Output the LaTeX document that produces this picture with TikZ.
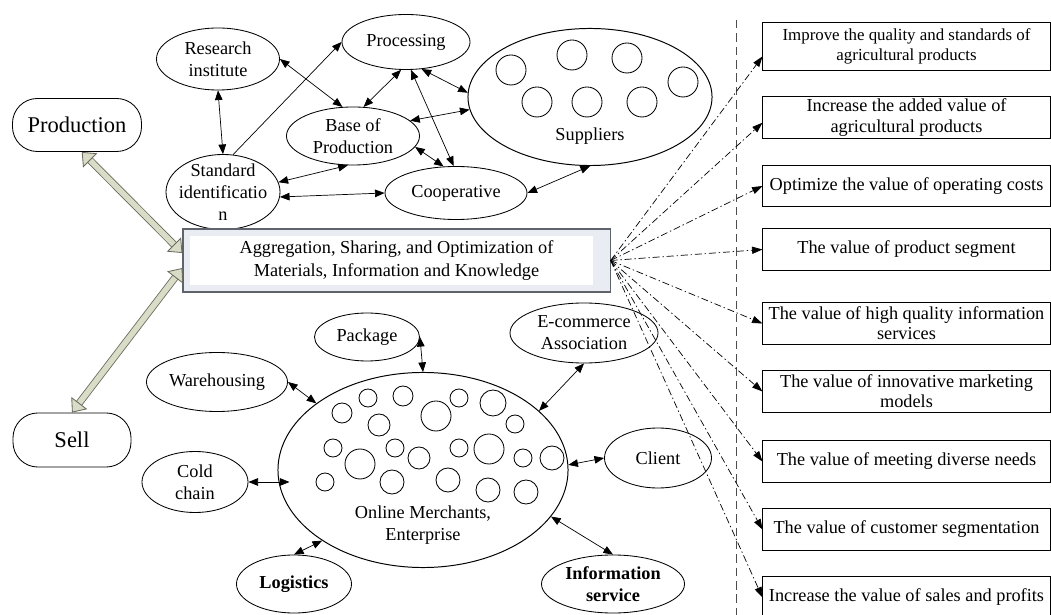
\documentclass[tikz,border=0pt]{standalone}
\usepackage{fontspec}
\setmainfont{Liberation Serif}
\usetikzlibrary{shapes.geometric, arrows.meta}

\definecolor{aggfill}{HTML}{E9EDF3}
\definecolor{aggedge}{HTML}{5F636B}
\definecolor{hollowfill}{HTML}{D9DCC6}
\definecolor{hollowedge}{HTML}{6B6B5E}

\tikzset{
    txt/.style={font=\fontsize{13}{15.5}\selectfont},
    oval/.style={ellipse, draw, line width=0.6pt, inner sep=0pt, align=center, txt},
    bigoval/.style={ellipse, draw, line width=0.7pt, inner sep=0pt},
    stadium/.style={rectangle, draw, line width=0.6pt, rounded corners=0.62cm, font=\fontsize{16}{19}\selectfont},
    valbox/.style={rectangle, draw, line width=0.7pt, minimum width=7.175cm, minimum height=1.03cm, inner sep=2pt, align=center, font=\fontsize{13}{14.3}\selectfont},
    aggbox/.style={rectangle, draw=aggedge, line width=0.8pt, fill=aggfill, minimum width=10.675cm, minimum height=1.575cm, align=center, font=\fontsize{13}{16.5}\selectfont,
        path picture={\fill[white] ([shift={(0.175cm,-0.175cm)}]path picture bounding box.north west) rectangle ([shift={(-0.425cm,0.175cm)}]path picture bounding box.south east);}},
    link/.style={{Triangle[length=2.4mm,width=1.9mm]}-{Triangle[length=2.4mm,width=1.9mm]}, line width=0.5pt},
    onelink/.style={-{Triangle[length=2.4mm,width=1.9mm]}, line width=0.5pt},
    valarrow/.style={-{Triangle[length=2.6mm,width=1.8mm]}, line width=0.5pt, dash pattern=on 5pt off 2pt on 1pt off 2pt},
    hollow/.style={draw=hollowedge, line width=0.6pt, double=hollowfill, double distance=4pt,
        {Triangle[open,fill=hollowfill,length=3mm,width=5mm]}-{Triangle[open,fill=hollowfill,length=3mm,width=5mm]}},
    sepline/.style={dash pattern=on 6pt off 3.5pt, line width=0.7pt, gray!60!black}
}

\begin{document}
\begin{tikzpicture}[x=0.025cm, y=-0.025cm]
        \useasboundingbox (0,0) rectangle (1051,615);

        % production and sell
            \node[stadium, minimum width=3.225cm, minimum height=1.325cm] (prod) at (77,125) {Production};
            \node[stadium, minimum width=2.95cm, minimum height=1.35cm] (sell) at (72,440) {Sell};

        % supply side
            \node[oval, minimum width=3.075cm, minimum height=1.55cm] (res) at (218,59) {Research\\institute};
            \node[oval, minimum width=2.85cm, minimum height=1.875cm, label={[txt, align=center]center:{Standard\\identificatio\\n}}] (std) at (223,192) {};
            \node[oval, minimum width=3.2cm, minimum height=1.375cm] (proc) at (406,42) {Processing};
            \node[oval, minimum width=3.325cm, minimum height=1.45cm] (base) at (353,136) {Base of\\Production};
            \node[oval, minimum width=3.55cm, minimum height=1.325cm] (coop) at (456,193) {Cooperative};
            \node[bigoval, minimum width=6.1cm, minimum height=3.425cm, label={[txt, yshift=-0.975cm]center:Suppliers}] (sup) at (590,97) {};
            \draw[line width=0.6pt] (511,70) circle (15) (572,55) circle (15) (627,58) circle (15) (683,82) circle (15)
                (537,102) circle (15) (587,102) circle (15) (642,102) circle (15);

            \draw[link] (res.south) -- (std.north);
            \draw[onelink] (std.75) -- (proc.west);
            \draw[link] (res.east) -- (base.110);
            \draw[link] (base.70) -- (proc.-100);
            \draw[link] (proc.-60) -- (sup.178);
            \draw[link] (proc.-80) -- (coop.95);
            \draw[link] (base.15) -- (sup.186);
            \draw[link] (base.-10) -- (coop.115);
            \draw[link] (std.10) -- (base.-100);
            \draw[link] (std.-5) -- (coop.west);
            \draw[link] (coop.east) -- (sup.-90);

        % aggregation box
            \node[aggbox] (agg) at (396.5,260.5) {Aggregation, Sharing, and Optimization of\\Materials, Information and Knowledge};
            \draw[hollow] (prod.-80) -- (agg.178);
            \draw[hollow] (agg.182) -- (sell.north);

        % sales side
            \node[bigoval, minimum width=7.25cm, minimum height=4.875cm, label={[txt, align=center, yshift=-1.375cm]center:{Online Merchants,\\Enterprise}}] (merch) at (423,470) {};
            \draw[line width=0.6pt] (342,413) circle (10) (368,398) circle (9) (403,396) circle (10) (379,425) circle (11)
                (436,416) circle (15) (459,398) circle (9) (493,403) circle (13) (515,424) circle (9)
                (333,448) circle (9) (360,464) circle (15) (395,448) circle (9) (419,458) circle (11)
                (459,448) circle (9) (489,449) circle (15) (523,458) circle (9) (552,458) circle (12)
                (325,482) circle (9) (392,482) circle (12) (448,480) circle (12) (488,490) circle (12) (526,492) circle (12);
            \node[oval, minimum width=2.625cm, minimum height=1.2cm] (pack) at (367,337) {Package};
            \node[oval, minimum width=3.7cm, minimum height=1.5cm] (ecom) at (584,333) {E-commerce\\Association};
            \node[oval, minimum width=3.525cm, minimum height=1.475cm] (ware) at (217,382) {Warehousing};
            \node[oval, minimum width=2.65cm, minimum height=1.525cm] (cold) at (195,482) {Cold\\chain};
            \node[oval, minimum width=2.875cm, minimum height=1.45cm, font=\fontsize{13}{15.5}\selectfont\bfseries] (logi) at (294,584) {Logistics};
            \node[oval, minimum width=2.675cm, minimum height=1.5cm] (client) at (658,458) {Client};
            \node[oval, minimum width=3.575cm, minimum height=1.45cm, font=\fontsize{13}{15.5}\selectfont\bfseries] (info) at (613,584) {Information\\service};

            \draw[link] (pack.east) -- (merch.north);
            \draw[link] (ecom.south) -- (merch.27);
            \draw[link] (ware.east) -- (merch.148);
            \draw[link] (cold.east) -- ([xshift=0.3cm]cold.east -| merch.west);
            \draw[link] (logi.north) -- (merch.215);
            \draw[link] (client.west) -- (merch.2);
            \draw[link] (merch.-20) -- (info.north);

        % values
            \draw[sepline] (736,20) -- (736,615);
            \node[valbox, minimum height=1.175cm, font=\fontsize{12}{14}\selectfont] (val1) at (906.5,46.5) {Improve the quality and standards of\\agricultural products};
            \node[valbox] (val2) at (906.5,117.5) {Increase the added value of\\agricultural products};
            \node[valbox] (val3) at (906.5,186) {Optimize the value of operating costs};
            \node[valbox] (val4) at (906.5,249.5) {The value of product segment};
            \node[valbox] (val5) at (906.5,323.5) {The value of high quality information\\services};
            \node[valbox] (val6) at (906.5,391.5) {The value of innovative marketing\\models};
            \node[valbox] (val7) at (906.5,461.5) {The value of meeting diverse needs};
            \node[valbox] (val8) at (906.5,529.5) {The value of customer segmentation};
            \node[valbox] (val9) at (906.5,597.5) {Increase the value of sales and profits};

            \draw[valarrow] (agg.east) -- ([yshift=-0.25cm]val1.west);
            \draw[valarrow] (agg.east) -- ([yshift=-0.13cm]val2.west);
            \draw[valarrow] (agg.east) -- (val3.west);
            \draw[valarrow] (agg.east) -- (val4.west);
            \draw[valarrow] (agg.east) -- (val5.west);
            \draw[valarrow] (agg.east) -- (val6.west);
            \draw[valarrow] (agg.east) -- (val7.west);
            \draw[valarrow] (agg.east) -- (val8.west);
            \draw[valarrow] (agg.east) -- (val9.west);
        \end{tikzpicture}
\end{document}
